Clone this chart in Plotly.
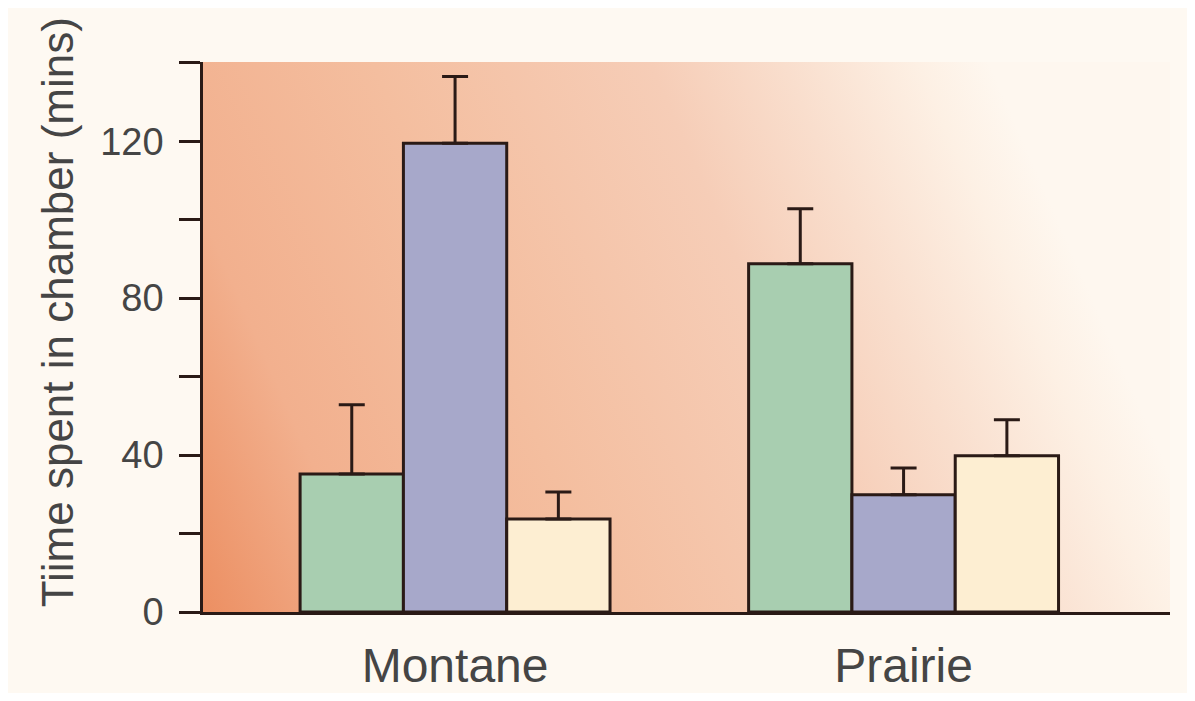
import plotly.graph_objects as go
import urllib.parse

# ---- data ----
groups = ["Montane", "Prairie"]
series_names = ["Green", "Blue", "Cream"]
green_vals = [35.2, 88.8]
green_err = [17.6, 14.0]
blue_vals = [119.5, 29.9]
blue_err = [17.0, 6.8]
cream_vals = [23.7, 39.8]
cream_err = [6.9, 9.2]
y_tick_vals = [0, 40, 80, 120]
y_tick_text = ["0", "40", "80", "120"]

# ---- styles ----
EDGE = "#2a1a16"
colors = ["#A8CEB0", "#A7A8CA", "#FDEED2"]
PAPER = "#FEF9F2"
TEXT = "#454545"
FONT = "Liberation Sans, Arial, sans-serif"

x_pos = list(range(len(groups)))

fig = go.Figure()
for name, vals, errs, col in zip(series_names,
                                 [green_vals, blue_vals, cream_vals],
                                 [green_err, blue_err, cream_err],
                                 colors):
    fig.add_trace(go.Bar(
        x=x_pos, y=vals, name=name,
        marker=dict(color=col, line=dict(color=EDGE, width=3)),
        error_y=dict(type="data", array=errs, arrayminus=[0] * len(errs),
                     symmetric=False, color=EDGE, thickness=3, width=13),
        showlegend=False,
    ))

svg = (
    '<svg xmlns="http://www.w3.org/2000/svg" width="1000" height="1000" '
    'viewBox="0 0 1000 1000" preserveAspectRatio="none">'
    '<defs><linearGradient id="g" x1="0" y1="1" x2="1" y2="0.75">'
    '<stop offset="0" stop-color="#EC8F62"/>'
    '<stop offset="0.17" stop-color="#F2B08E"/>'
    '<stop offset="0.4" stop-color="#F4BE9F"/>'
    '<stop offset="0.67" stop-color="#F6CDB7"/>'
    '<stop offset="0.8" stop-color="#F9DECD"/>'
    '<stop offset="0.93" stop-color="#FDF0E4"/>'
    '<stop offset="1" stop-color="#FEF7EF"/>'
    '</linearGradient></defs>'
    '<rect x="0" y="0" width="1000" height="1000" fill="url(#g)"/></svg>'
)
src = "data:image/svg+xml;charset=utf-8," + urllib.parse.quote(svg)

fig.update_layout(
    width=1179, height=685,
    margin=dict(l=195, r=17, t=54, b=81),
    paper_bgcolor=PAPER,
    plot_bgcolor="rgba(0,0,0,0)",
    barmode="group",
    bargap=0.309,
    bargroupgap=0,
    font=dict(family=FONT, color=TEXT),
    images=[dict(source=src, xref="paper", yref="paper", x=0, y=1,
                 sizex=1, sizey=1, sizing="stretch", layer="below",
                 xanchor="left", yanchor="top")],
    xaxis=dict(
        range=[-0.562, 1.594],
        tickmode="array", tickvals=x_pos, ticktext=groups,
        ticks="", showgrid=False, zeroline=False,
        showline=True, linecolor=EDGE, linewidth=2.5,
        tickfont=dict(size=48, color=TEXT, family=FONT),
        ticklabelstandoff=10,
        automargin=False,
    ),
    yaxis=dict(
        range=[0, 140.2],
        tickmode="array", tickvals=y_tick_vals, ticktext=y_tick_text,
        ticks="outside", ticklen=21, tickwidth=2.5, tickcolor=EDGE,
        minor=dict(tickmode="array", tickvals=[20, 60, 100, 140],
                   ticks="outside", ticklen=21, tickwidth=2.5,
                   tickcolor=EDGE, showgrid=False),
        showgrid=False, zeroline=False,
        showline=True, linecolor=EDGE, linewidth=2.5,
        tickfont=dict(size=38, color=TEXT, family=FONT),
        ticklabelstandoff=8,
        automargin=False,
    ),
    annotations=[dict(
        text="Tiime spent in chamber (mins)",
        xref="paper", yref="paper", x=-0.151, y=0.545,
        xanchor="center", yanchor="middle", textangle=-90,
        showarrow=False, font=dict(size=44, color=TEXT, family=FONT),
    )],
)

fig.write_html("out.html")
